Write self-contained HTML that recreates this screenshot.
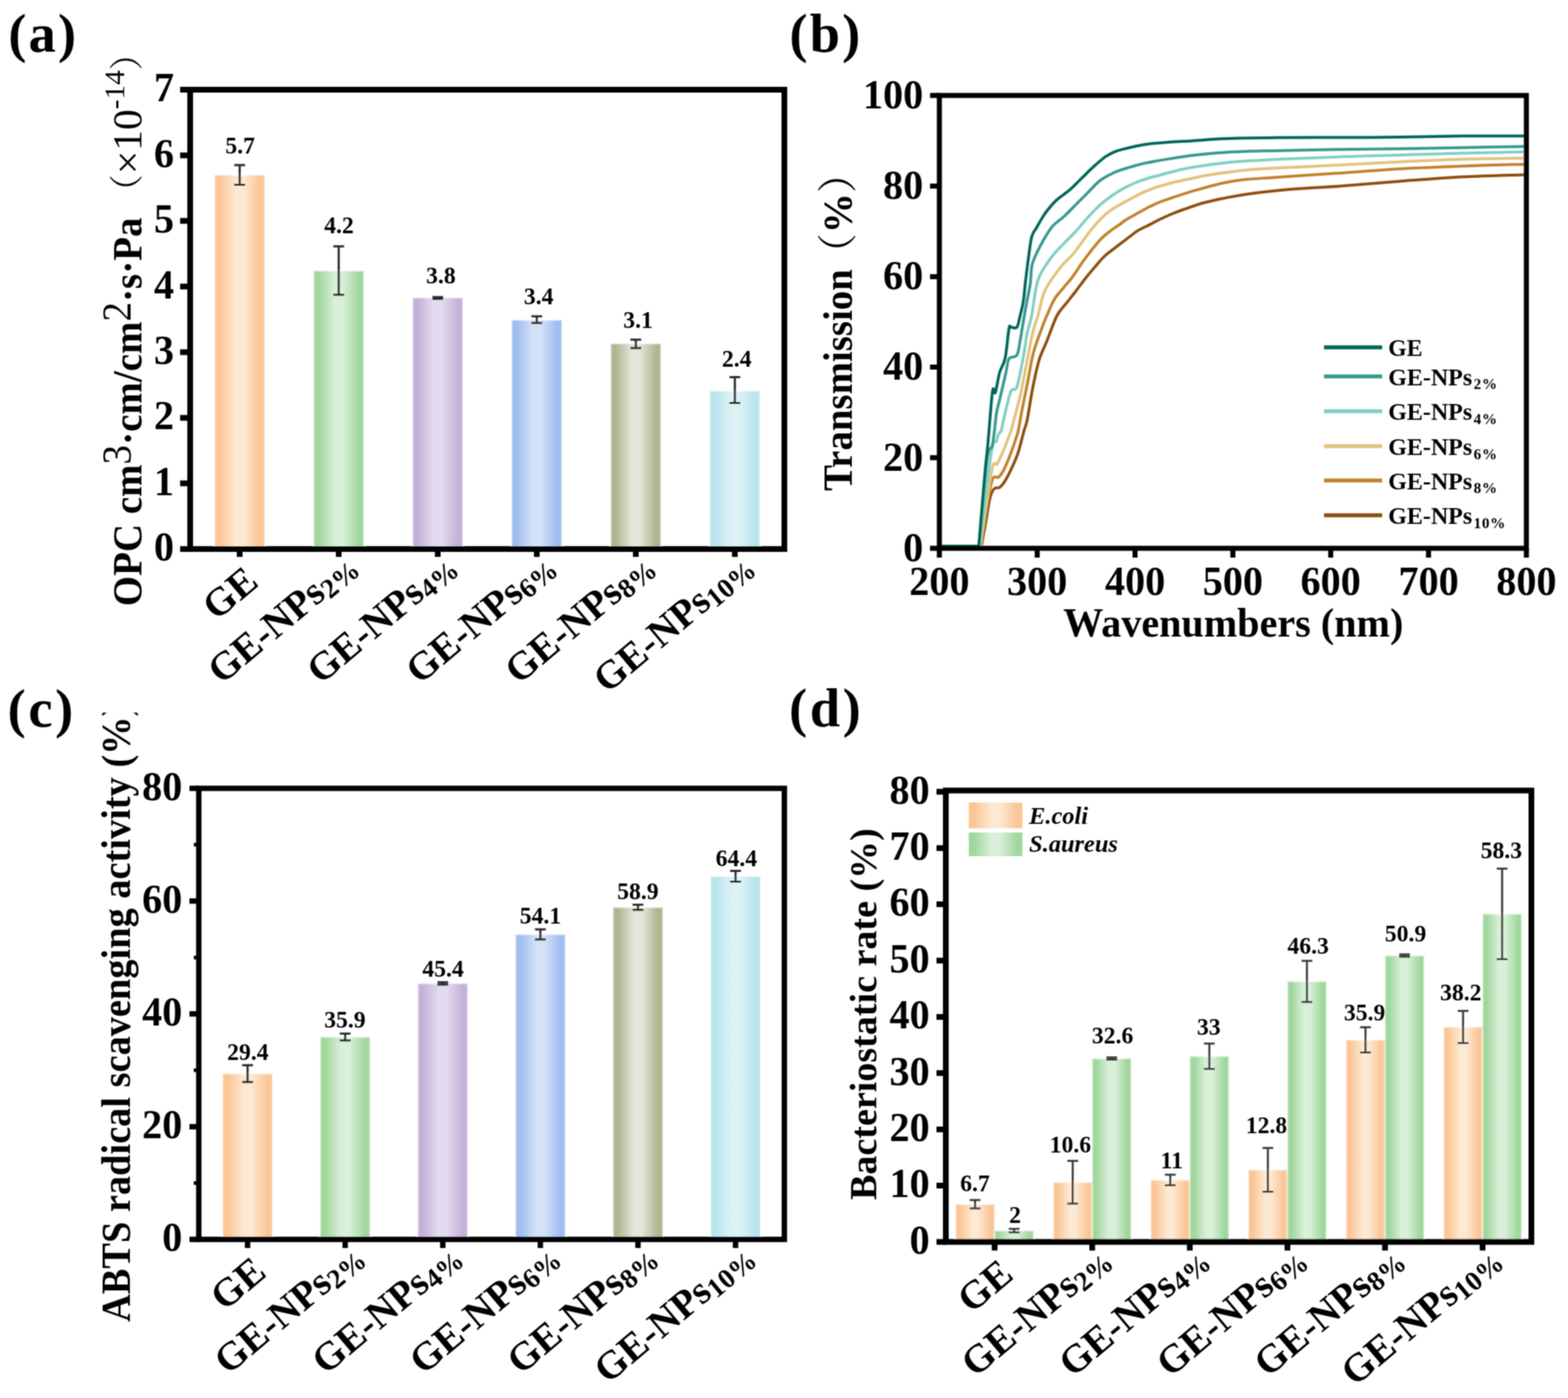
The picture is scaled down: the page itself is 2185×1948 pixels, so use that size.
<!DOCTYPE html>
<html><head><meta charset="utf-8"><title>Figure</title>
<style>html,body{margin:0;padding:0;background:#fff;}svg{display:block;}</style></head>
<body><svg width="2185" height="1948" viewBox="0 0 2185 1948">
<defs><linearGradient id="g_peach" x1="0" y1="0" x2="1" y2="0"><stop offset="0" stop-color="#FBC595"/><stop offset="0.1" stop-color="#FBC595"/><stop offset="0.42" stop-color="#FDE8D2"/><stop offset="0.58" stop-color="#FDE8D2"/><stop offset="0.9" stop-color="#FBC595"/><stop offset="1" stop-color="#FBC595"/></linearGradient><linearGradient id="g_green" x1="0" y1="0" x2="1" y2="0"><stop offset="0" stop-color="#A0D79C"/><stop offset="0.1" stop-color="#A0D79C"/><stop offset="0.42" stop-color="#D9EFD9"/><stop offset="0.58" stop-color="#D9EFD9"/><stop offset="0.9" stop-color="#A0D79C"/><stop offset="1" stop-color="#A0D79C"/></linearGradient><linearGradient id="g_purple" x1="0" y1="0" x2="1" y2="0"><stop offset="0" stop-color="#C3B1D8"/><stop offset="0.1" stop-color="#C3B1D8"/><stop offset="0.42" stop-color="#E3DBEE"/><stop offset="0.58" stop-color="#E3DBEE"/><stop offset="0.9" stop-color="#C3B1D8"/><stop offset="1" stop-color="#C3B1D8"/></linearGradient><linearGradient id="g_blue" x1="0" y1="0" x2="1" y2="0"><stop offset="0" stop-color="#9FBDF0"/><stop offset="0.1" stop-color="#9FBDF0"/><stop offset="0.42" stop-color="#D4E2F8"/><stop offset="0.58" stop-color="#D4E2F8"/><stop offset="0.9" stop-color="#9FBDF0"/><stop offset="1" stop-color="#9FBDF0"/></linearGradient><linearGradient id="g_olive" x1="0" y1="0" x2="1" y2="0"><stop offset="0" stop-color="#B0B590"/><stop offset="0.1" stop-color="#B0B590"/><stop offset="0.42" stop-color="#E5E5D9"/><stop offset="0.58" stop-color="#E5E5D9"/><stop offset="0.9" stop-color="#B0B590"/><stop offset="1" stop-color="#B0B590"/></linearGradient><linearGradient id="g_cyan" x1="0" y1="0" x2="1" y2="0"><stop offset="0" stop-color="#B8E4EB"/><stop offset="0.1" stop-color="#B8E4EB"/><stop offset="0.42" stop-color="#DDF2F5"/><stop offset="0.58" stop-color="#DDF2F5"/><stop offset="0.9" stop-color="#B8E4EB"/><stop offset="1" stop-color="#B8E4EB"/></linearGradient><clipPath id="clipc"><rect x="0" y="993" width="260" height="955"/></clipPath><filter id="soft" x="0" y="0" width="2185" height="1948" filterUnits="userSpaceOnUse"><feConvolveMatrix order="3" kernelMatrix="1 2 1 2 4 2 1 2 1" divisor="16" edgeMode="duplicate"/></filter></defs>
<rect width="2185" height="1948" fill="#fff"/>
<g filter="url(#soft)">
<rect x="299" y="243.86" width="70" height="521.14" fill="url(#g_peach)" stroke="#fff" stroke-opacity="0.4" stroke-width="3"/>
<rect x="437" y="377.34" width="70" height="387.66" fill="url(#g_green)" stroke="#fff" stroke-opacity="0.4" stroke-width="3"/>
<rect x="575" y="414.83" width="70" height="350.17" fill="url(#g_purple)" stroke="#fff" stroke-opacity="0.4" stroke-width="3"/>
<rect x="713" y="445.91" width="70" height="319.09" fill="url(#g_blue)" stroke="#fff" stroke-opacity="0.4" stroke-width="3"/>
<rect x="851" y="478.83" width="70" height="286.17" fill="url(#g_olive)" stroke="#fff" stroke-opacity="0.4" stroke-width="3"/>
<rect x="989" y="544.66" width="70" height="220.34" fill="url(#g_cyan)" stroke="#fff" stroke-opacity="0.4" stroke-width="3"/>
<path d="M334 230.1V257.6M326.5 230.1H341.5M326.5 257.6H341.5" stroke="#2a2a2a" stroke-width="3" fill="none"/>
<path d="M472 343.3V410.7M464.5 343.3H479.5M464.5 410.7H479.5" stroke="#2a2a2a" stroke-width="3" fill="none"/>
<path d="M610 414V416.5M602.5 414H617.5M602.5 416.5H617.5" stroke="#2a2a2a" stroke-width="3" fill="none"/>
<path d="M748 440.8V450M740.5 440.8H755.5M740.5 450H755.5" stroke="#2a2a2a" stroke-width="3" fill="none"/>
<path d="M886 473.2V485M878.5 473.2H893.5M878.5 485H893.5" stroke="#2a2a2a" stroke-width="3" fill="none"/>
<path d="M1024 525.5V561.6M1016.5 525.5H1031.5M1016.5 561.6H1031.5" stroke="#2a2a2a" stroke-width="3" fill="none"/>
<text x="334.7" y="213.5" font-size="33" font-weight="bold" font-style="normal" text-anchor="middle" font-family="'Liberation Serif', 'Noto Serif CJK SC', serif" >5.7</text>
<text x="472.4" y="325" font-size="33" font-weight="bold" font-style="normal" text-anchor="middle" font-family="'Liberation Serif', 'Noto Serif CJK SC', serif" >4.2</text>
<text x="614.4" y="394.5" font-size="33" font-weight="bold" font-style="normal" text-anchor="middle" font-family="'Liberation Serif', 'Noto Serif CJK SC', serif" >3.8</text>
<text x="750.7" y="424.1" font-size="33" font-weight="bold" font-style="normal" text-anchor="middle" font-family="'Liberation Serif', 'Noto Serif CJK SC', serif" >3.4</text>
<text x="889.2" y="457" font-size="33" font-weight="bold" font-style="normal" text-anchor="middle" font-family="'Liberation Serif', 'Noto Serif CJK SC', serif" >3.1</text>
<text x="1026.7" y="510.9" font-size="33" font-weight="bold" font-style="normal" text-anchor="middle" font-family="'Liberation Serif', 'Noto Serif CJK SC', serif" >2.4</text>
<rect x="265" y="125" width="828" height="640" fill="none" stroke="#000" stroke-width="8"/>
<path d="M265 765H251M265 673.57H251M265 582.14H251M265 490.71H251M265 399.29H251M265 307.86H251M265 216.43H251M265 125H251" stroke="#000" stroke-width="8" fill="none"/>
<path d="M334 765V776M472 765V776M610 765V776M748 765V776M886 765V776M1024 765V776" stroke="#000" stroke-width="8" fill="none"/>
<text x="242.5" y="781.34" font-size="56" font-weight="bold" font-style="normal" text-anchor="end" font-family="'Liberation Serif', 'Noto Serif CJK SC', serif" >0</text>
<text x="242.5" y="689.91" font-size="56" font-weight="bold" font-style="normal" text-anchor="end" font-family="'Liberation Serif', 'Noto Serif CJK SC', serif" >1</text>
<text x="242.5" y="598.48" font-size="56" font-weight="bold" font-style="normal" text-anchor="end" font-family="'Liberation Serif', 'Noto Serif CJK SC', serif" >2</text>
<text x="242.5" y="507.05" font-size="56" font-weight="bold" font-style="normal" text-anchor="end" font-family="'Liberation Serif', 'Noto Serif CJK SC', serif" >3</text>
<text x="242.5" y="415.63" font-size="56" font-weight="bold" font-style="normal" text-anchor="end" font-family="'Liberation Serif', 'Noto Serif CJK SC', serif" >4</text>
<text x="242.5" y="324.2" font-size="56" font-weight="bold" font-style="normal" text-anchor="end" font-family="'Liberation Serif', 'Noto Serif CJK SC', serif" >5</text>
<text x="242.5" y="232.77" font-size="56" font-weight="bold" font-style="normal" text-anchor="end" font-family="'Liberation Serif', 'Noto Serif CJK SC', serif" >6</text>
<text x="242.5" y="141.34" font-size="56" font-weight="bold" font-style="normal" text-anchor="end" font-family="'Liberation Serif', 'Noto Serif CJK SC', serif" >7</text>
<text x="362.5" y="814.6" font-size="55" font-weight="bold" text-anchor="end" font-family="'Liberation Serif', 'Noto Serif CJK SC', serif" transform="rotate(-40 362.5 814.6)">GE</text>
<text x="500.5" y="794" font-size="55" font-weight="bold" text-anchor="end" font-family="'Liberation Serif', 'Noto Serif CJK SC', serif" transform="rotate(-40 500.5 794)">GE-NPs<tspan font-size="0.7em" dy="0.15em">2%</tspan></text>
<text x="638.5" y="794" font-size="55" font-weight="bold" text-anchor="end" font-family="'Liberation Serif', 'Noto Serif CJK SC', serif" transform="rotate(-40 638.5 794)">GE-NPs<tspan font-size="0.7em" dy="0.15em">4%</tspan></text>
<text x="776.5" y="794" font-size="55" font-weight="bold" text-anchor="end" font-family="'Liberation Serif', 'Noto Serif CJK SC', serif" transform="rotate(-40 776.5 794)">GE-NPs<tspan font-size="0.7em" dy="0.15em">6%</tspan></text>
<text x="914.5" y="794" font-size="55" font-weight="bold" text-anchor="end" font-family="'Liberation Serif', 'Noto Serif CJK SC', serif" transform="rotate(-40 914.5 794)">GE-NPs<tspan font-size="0.7em" dy="0.15em">8%</tspan></text>
<text x="1052.5" y="794" font-size="55" font-weight="bold" text-anchor="end" font-family="'Liberation Serif', 'Noto Serif CJK SC', serif" transform="rotate(-40 1052.5 794)">GE-NPs<tspan font-size="0.7em" dy="0.15em">10%</tspan></text>
<text x="11.5" y="71.5" font-size="76" font-weight="bold" font-style="normal" text-anchor="start" font-family="'Liberation Serif', 'Noto Serif CJK SC', serif" letter-spacing="3">(a)</text>
<text transform="translate(197 844.8) rotate(-90) scale(0.937 1)" font-size="58" font-weight="bold" font-family="'Liberation Serif', 'Noto Serif CJK SC', serif">OPC cm<tspan font-weight="normal" dy="-15">3</tspan><tspan dy="15">·cm/cm</tspan><tspan font-weight="normal" dy="-15">2</tspan><tspan dy="15">·s·Pa</tspan></text>
<text transform="translate(197 290.4) rotate(-90)" font-size="58" font-family="'Liberation Serif', 'Noto Serif CJK SC', serif"><tspan font-family="'Noto Serif CJK SC', 'Liberation Serif', serif" font-size="0.82em" dy="-4">（</tspan><tspan dy="4">×10</tspan><tspan font-size="0.7em" dy="-24">-14</tspan><tspan font-family="'Noto Serif CJK SC', 'Liberation Serif', serif" font-size="0.82em" dy="20">）</tspan></text>
<g fill="none" stroke-width="4" stroke-linejoin="round">
<path d="M1309 761L1367.6 761C1368.58 755.6 1371.52 739.77 1373.5 728.6C1375.48 717.43 1377.52 701.93 1379.5 694C1381.48 686.07 1383.1 683.5 1385.4 681C1387.7 678.5 1390.67 681 1393.3 679C1395.93 677 1398.23 673.92 1401.2 669C1404.17 664.08 1408.13 656 1411.1 649.5C1414.07 643 1416.35 638.25 1419 630C1421.65 621.75 1424.93 607.5 1427 600C1429.07 592.5 1429.4 594.83 1431.4 585C1433.4 575.17 1436.25 554.83 1439 541C1441.75 527.17 1444.58 513 1447.9 502C1451.22 491 1454.75 485.33 1458.9 475C1463.05 464.67 1468.28 448.75 1472.8 440C1477.32 431.25 1481.62 428.2 1486 422.5C1490.38 416.8 1494.72 411.52 1499.1 405.8C1503.48 400.08 1507.9 393.78 1512.3 388.2C1516.7 382.62 1521.1 377.43 1525.5 372.3C1529.9 367.17 1534.3 361.65 1538.7 357.4C1543.1 353.15 1545.93 351.45 1551.9 346.8C1557.87 342.15 1568.78 333.82 1574.5 329.5C1580.22 325.18 1581.63 323.63 1586.2 320.9C1590.77 318.17 1596.67 315.75 1601.9 313.1C1607.13 310.45 1612.37 307.52 1617.6 305C1622.83 302.48 1628.07 300.17 1633.3 298C1638.53 295.83 1641.62 294.58 1649 292C1656.38 289.42 1667.93 285.18 1677.6 282.5C1687.27 279.82 1697.2 277.87 1707 275.9C1716.8 273.93 1726.6 272.18 1736.4 270.7C1746.2 269.22 1756 268.1 1765.8 267C1775.6 265.9 1785.4 264.95 1795.2 264.1C1805 263.25 1812.85 262.67 1824.6 261.9C1836.35 261.13 1844.55 261.07 1865.7 259.5C1886.85 257.93 1922.92 254.67 1951.5 252.5C1980.08 250.33 2008.28 248 2037.2 246.5C2066.12 245 2110.37 244 2125 243.5" stroke="#8E4F0F"/>
<path d="M1309 761L1367 761C1368.5 750.83 1373.27 715.67 1376 700C1378.73 684.33 1380.85 672.83 1383.4 667C1385.95 661.17 1388.67 667.17 1391.3 665C1393.93 662.83 1396.23 659.83 1399.2 654C1402.17 648.17 1406.3 637.33 1409.1 630C1411.9 622.67 1414.35 615 1416 610C1417.65 605 1417.72 606 1419 600C1420.28 594 1421.45 585.67 1423.7 574C1425.95 562.33 1429.75 543.83 1432.5 530C1435.25 516.17 1436.72 503.83 1440.2 491C1443.68 478.17 1450.32 461.5 1453.4 453C1456.48 444.5 1456.07 445.97 1458.7 440C1461.33 434.03 1465.38 423.63 1469.2 417.2C1473.02 410.77 1477.33 406.68 1481.6 401.4C1485.87 396.12 1490.42 391.37 1494.8 385.5C1499.18 379.63 1503.52 372.35 1507.9 366.2C1512.28 360.05 1516.7 354.17 1521.1 348.6C1525.5 343.03 1529.9 337.32 1534.3 332.8C1538.7 328.28 1543.22 324.8 1547.5 321.5C1551.78 318.2 1556.15 315.7 1560 313C1563.85 310.3 1566.23 308.03 1570.6 305.3C1574.97 302.57 1580.98 299.48 1586.2 296.6C1591.42 293.72 1596.67 290.6 1601.9 288C1607.13 285.4 1612.37 283.08 1617.6 281C1622.83 278.92 1628.07 277.28 1633.3 275.5C1638.53 273.72 1641.62 272.57 1649 270.3C1656.38 268.03 1667.93 264.53 1677.6 261.9C1687.27 259.27 1697.2 256.47 1707 254.5C1716.8 252.53 1726.6 251.2 1736.4 250.1C1746.2 249 1758.53 248.43 1765.8 247.9C1773.07 247.37 1763.35 248.02 1780 246.9C1796.65 245.78 1837.12 243.15 1865.7 241.2C1894.28 239.25 1922.92 236.83 1951.5 235.2C1980.08 233.57 2008.28 232.45 2037.2 231.4C2066.12 230.35 2110.37 229.32 2125 228.9" stroke="#C3812F"/>
<path d="M1309 761L1366 761C1367.5 750.83 1372.1 718.58 1375 700C1377.9 681.42 1381.02 658.42 1383.4 649.5C1385.78 640.58 1386.98 649.75 1389.3 646.5C1391.62 643.25 1394.65 636.08 1397.3 630C1399.95 623.92 1403.25 615 1405.2 610C1407.15 605 1407.93 603.33 1409 600C1410.07 596.67 1409.52 598 1411.6 590C1413.68 582 1418.38 565.67 1421.5 552C1424.62 538.33 1427.38 522.67 1430.3 508C1433.22 493.33 1436.32 475.33 1439 464C1441.68 452.67 1444.37 447.33 1446.4 440C1448.43 432.67 1449.45 426.15 1451.2 420C1452.95 413.85 1453.9 409.13 1456.9 403.1C1459.9 397.07 1465.08 389.67 1469.2 383.8C1473.32 377.93 1477.33 372.73 1481.6 367.9C1485.87 363.07 1490.42 359.92 1494.8 354.8C1499.18 349.68 1503.52 343.07 1507.9 337.2C1512.28 331.33 1516.7 325.03 1521.1 319.6C1525.5 314.17 1529.9 309 1534.3 304.6C1538.7 300.2 1542.77 296.62 1547.5 293.2C1552.23 289.78 1557.55 287.05 1562.7 284.1C1567.85 281.15 1573.18 278.25 1578.4 275.5C1583.62 272.75 1588.77 269.95 1594 267.6C1599.23 265.25 1604.57 263.22 1609.8 261.4C1615.03 259.58 1620.18 258.15 1625.4 256.7C1630.62 255.25 1635.33 254.02 1641.1 252.7C1646.87 251.38 1653.92 250.08 1660 248.8C1666.08 247.52 1669.77 246.37 1677.6 245C1685.43 243.63 1697.2 241.95 1707 240.6C1716.8 239.25 1724.23 238 1736.4 236.9C1748.57 235.8 1758.45 235.15 1780 234C1801.55 232.85 1837.12 231.43 1865.7 230C1894.28 228.57 1922.92 226.73 1951.5 225.4C1980.08 224.07 2008.28 222.85 2037.2 222C2066.12 221.15 2110.37 220.58 2125 220.3" stroke="#E2C27E"/>
<path d="M1309 761L1365 761C1367.08 744 1374.43 682.5 1377.5 659C1380.57 635.5 1381.6 627.33 1383.4 620C1385.2 612.67 1386.98 617.5 1388.3 615C1389.62 612.5 1390.13 607.5 1391.3 605C1392.47 602.5 1394.1 603.33 1395.3 600C1396.5 596.67 1396.32 594 1398.5 585C1400.68 576 1405.32 553.67 1408.4 546C1411.48 538.33 1414.07 547.17 1417 539C1419.93 530.83 1423.6 509.5 1426 497C1428.4 484.5 1429.47 473.5 1431.4 464C1433.33 454.5 1435.58 450.33 1437.6 440C1439.62 429.67 1441.53 411.5 1443.5 402C1445.47 392.5 1445.67 390.42 1449.4 383C1453.13 375.58 1460.4 364.75 1465.9 357.5C1471.4 350.25 1476.9 345.32 1482.4 339.5C1487.9 333.68 1493.4 328.6 1498.9 322.6C1504.4 316.6 1509.9 309.52 1515.4 303.5C1520.9 297.48 1526.42 291.5 1531.9 286.5C1537.38 281.5 1542.82 277.42 1548.3 273.5C1553.78 269.58 1559.3 266.08 1564.8 263C1570.3 259.92 1575.8 257.33 1581.3 255C1586.8 252.67 1592.3 250.75 1597.8 249C1603.3 247.25 1606.07 246.67 1614.3 244.5C1622.53 242.33 1636.75 238.28 1647.2 236C1657.65 233.72 1664.78 232.55 1677 230.8C1689.22 229.05 1703.33 226.97 1720.5 225.5C1737.67 224.03 1755.8 223.15 1780 222C1804.2 220.85 1837.12 219.6 1865.7 218.6C1894.28 217.6 1922.92 216.87 1951.5 216C1980.08 215.13 2008.28 214.12 2037.2 213.4C2066.12 212.68 2110.37 211.98 2125 211.7" stroke="#80D0C2"/>
<path d="M1309 761L1364 761C1365.92 740.83 1372.33 663.5 1375.5 640C1378.67 616.5 1380.82 630.67 1383 620C1385.18 609.33 1386.93 586.5 1388.6 576C1390.27 565.5 1390.8 566.5 1393 557C1395.2 547.5 1399.63 528.5 1401.8 519C1403.97 509.5 1403.47 504 1406 500C1408.53 496 1414.42 499.17 1417 495C1419.58 490.83 1419.83 483.83 1421.5 475C1423.17 466.17 1425.42 451.17 1427 442C1428.58 432.83 1429.53 427.95 1431 420C1432.47 412.05 1434.55 402.97 1435.8 394.3C1437.05 385.63 1436.23 376.53 1438.5 368C1440.77 359.47 1444.83 351.72 1449.4 343.1C1453.97 334.48 1460.4 323.17 1465.9 316.3C1471.4 309.43 1476.9 307.05 1482.4 301.9C1487.9 296.75 1493.4 290.9 1498.9 285.4C1504.4 279.9 1509.9 274.4 1515.4 268.9C1520.9 263.4 1526.42 256.8 1531.9 252.4C1537.38 248 1542.82 245.25 1548.3 242.5C1553.78 239.75 1559.3 237.82 1564.8 235.9C1570.3 233.98 1575.8 232.5 1581.3 231C1586.8 229.5 1589.55 228.55 1597.8 226.9C1606.05 225.25 1619.82 222.88 1630.8 221.1C1641.78 219.32 1652.72 217.57 1663.7 216.2C1674.68 214.83 1684.78 213.78 1696.7 212.9C1708.62 212.02 1721.32 211.38 1735.2 210.9C1749.08 210.42 1758.25 210.43 1780 210C1801.75 209.57 1837.12 208.77 1865.7 208.3C1894.28 207.83 1922.92 207.63 1951.5 207.2C1980.08 206.77 2008.28 206.23 2037.2 205.7C2066.12 205.17 2110.37 204.28 2125 204" stroke="#389A8F"/>
<path d="M1309 761L1364 761C1365.42 744 1370.42 682.5 1372.5 659C1374.58 635.5 1374.75 638.83 1376.5 620C1378.25 601.17 1381.25 558.17 1383 546C1384.75 533.83 1385.33 551.5 1387 547C1388.67 542.5 1390.72 527 1393 519C1395.28 511 1398.53 509.17 1400.7 499C1402.87 488.83 1404.62 465.17 1406 458C1407.38 450.83 1407.17 456.33 1409 456C1410.83 455.67 1414.92 458.67 1417 456C1419.08 453.33 1420 446 1421.5 440C1423 434 1424.78 427.62 1426 420C1427.22 412.38 1427.6 404.45 1428.8 394.3C1430 384.15 1431.72 369.82 1433.2 359.1C1434.68 348.38 1435.8 337.03 1437.7 330C1439.6 322.97 1441.68 322.07 1444.6 316.9C1447.52 311.73 1451.65 304.25 1455.2 299C1458.75 293.75 1462.73 289.05 1465.9 285.4C1469.07 281.75 1470.07 280.57 1474.2 277.1C1478.33 273.63 1485.22 269.35 1490.7 264.6C1496.18 259.85 1501.62 253.93 1507.1 248.6C1512.58 243.27 1518.1 237.62 1523.6 232.6C1529.1 227.58 1535.37 221.93 1540.1 218.5C1544.83 215.07 1547.88 213.77 1552 212C1556.12 210.23 1557.17 209.73 1564.8 207.9C1572.43 206.07 1586.93 202.65 1597.8 201C1608.67 199.35 1619.35 198.8 1630 198C1640.65 197.2 1649.07 197 1661.7 196.2C1674.33 195.4 1686.08 193.95 1705.8 193.2C1725.52 192.45 1753.35 191.97 1780 191.7C1806.65 191.43 1837.12 191.7 1865.7 191.6C1894.28 191.5 1922.92 191.43 1951.5 191.1C1980.08 190.77 2008.28 189.88 2037.2 189.6C2066.12 189.32 2110.37 189.43 2125 189.4" stroke="#06665A"/>
</g>
<rect x="1309" y="133" width="818" height="631" fill="none" stroke="#000" stroke-width="7"/>
<path d="M1309 764H1296M1309 637.8H1296M1309 511.6H1296M1309 385.4H1296M1309 259.2H1296M1309 133H1296" stroke="#000" stroke-width="7" fill="none"/>
<path d="M1309 764V777M1445.33 764V777M1581.67 764V777M1718 764V777M1854.33 764V777M1990.67 764V777M2127 764V777" stroke="#000" stroke-width="7" fill="none"/>
<text x="1286.5" y="781.84" font-size="56" font-weight="bold" font-style="normal" text-anchor="end" font-family="'Liberation Serif', 'Noto Serif CJK SC', serif" >0</text>
<text x="1286.5" y="655.64" font-size="56" font-weight="bold" font-style="normal" text-anchor="end" font-family="'Liberation Serif', 'Noto Serif CJK SC', serif" >20</text>
<text x="1286.5" y="529.44" font-size="56" font-weight="bold" font-style="normal" text-anchor="end" font-family="'Liberation Serif', 'Noto Serif CJK SC', serif" >40</text>
<text x="1286.5" y="403.24" font-size="56" font-weight="bold" font-style="normal" text-anchor="end" font-family="'Liberation Serif', 'Noto Serif CJK SC', serif" >60</text>
<text x="1286.5" y="277.04" font-size="56" font-weight="bold" font-style="normal" text-anchor="end" font-family="'Liberation Serif', 'Noto Serif CJK SC', serif" >80</text>
<text x="1286.5" y="150.84" font-size="56" font-weight="bold" font-style="normal" text-anchor="end" font-family="'Liberation Serif', 'Noto Serif CJK SC', serif" >100</text>
<text x="1309" y="828.5" font-size="56" font-weight="bold" font-style="normal" text-anchor="middle" font-family="'Liberation Serif', 'Noto Serif CJK SC', serif" >200</text>
<text x="1445.33" y="828.5" font-size="56" font-weight="bold" font-style="normal" text-anchor="middle" font-family="'Liberation Serif', 'Noto Serif CJK SC', serif" >300</text>
<text x="1581.67" y="828.5" font-size="56" font-weight="bold" font-style="normal" text-anchor="middle" font-family="'Liberation Serif', 'Noto Serif CJK SC', serif" >400</text>
<text x="1718" y="828.5" font-size="56" font-weight="bold" font-style="normal" text-anchor="middle" font-family="'Liberation Serif', 'Noto Serif CJK SC', serif" >500</text>
<text x="1854.33" y="828.5" font-size="56" font-weight="bold" font-style="normal" text-anchor="middle" font-family="'Liberation Serif', 'Noto Serif CJK SC', serif" >600</text>
<text x="1990.67" y="828.5" font-size="56" font-weight="bold" font-style="normal" text-anchor="middle" font-family="'Liberation Serif', 'Noto Serif CJK SC', serif" >700</text>
<text x="2127" y="828.5" font-size="56" font-weight="bold" font-style="normal" text-anchor="middle" font-family="'Liberation Serif', 'Noto Serif CJK SC', serif" >800</text>
<text x="1718.6" y="887" font-size="56" font-weight="bold" font-style="normal" text-anchor="middle" font-family="'Liberation Serif', 'Noto Serif CJK SC', serif" textLength="474" lengthAdjust="spacingAndGlyphs">Wavenumbers (nm)</text>
<text x="1100" y="71.5" font-size="76" font-weight="bold" font-style="normal" text-anchor="start" font-family="'Liberation Serif', 'Noto Serif CJK SC', serif" letter-spacing="3">(b)</text>
<text transform="translate(1187 684) rotate(-90) scale(0.967 1)" font-size="56" font-weight="bold" font-family="'Liberation Serif', 'Noto Serif CJK SC', serif">Transmission</text>
<text transform="translate(1187 381) rotate(-90)" font-size="56" font-weight="bold" font-family="'Liberation Serif', 'Noto Serif CJK SC', serif"><tspan font-weight="normal" font-family="'Noto Serif CJK SC', 'Liberation Serif', serif">（</tspan>%<tspan font-weight="normal" font-family="'Noto Serif CJK SC', 'Liberation Serif', serif">）</tspan></text>
<path d="M1845 483.9H1926" stroke="#06665A" stroke-width="5.5"/>
<text x="1934.5" y="495.9" font-size="33" font-weight="bold" font-style="normal" text-anchor="start" font-family="'Liberation Serif', 'Noto Serif CJK SC', serif" >GE</text>
<path d="M1845 524.5H1926" stroke="#389A8F" stroke-width="5.5"/>
<text x="1934.5" y="536.5" font-size="33" font-weight="bold" font-style="normal" text-anchor="start" font-family="'Liberation Serif', 'Noto Serif CJK SC', serif" ><tspan textLength="117" lengthAdjust="spacingAndGlyphs">GE-NPs</tspan><tspan font-size="0.64em" dy="0.28em" dx="2" letter-spacing="1">2%</tspan></text>
<path d="M1845 573.1H1926" stroke="#80D0C2" stroke-width="5.5"/>
<text x="1934.5" y="585.1" font-size="33" font-weight="bold" font-style="normal" text-anchor="start" font-family="'Liberation Serif', 'Noto Serif CJK SC', serif" ><tspan textLength="117" lengthAdjust="spacingAndGlyphs">GE-NPs</tspan><tspan font-size="0.64em" dy="0.28em" dx="2" letter-spacing="1">4%</tspan></text>
<path d="M1845 621.7H1926" stroke="#E2C27E" stroke-width="5.5"/>
<text x="1934.5" y="633.7" font-size="33" font-weight="bold" font-style="normal" text-anchor="start" font-family="'Liberation Serif', 'Noto Serif CJK SC', serif" ><tspan textLength="117" lengthAdjust="spacingAndGlyphs">GE-NPs</tspan><tspan font-size="0.64em" dy="0.28em" dx="2" letter-spacing="1">6%</tspan></text>
<path d="M1845 669.5H1926" stroke="#C3812F" stroke-width="5.5"/>
<text x="1934.5" y="681.5" font-size="33" font-weight="bold" font-style="normal" text-anchor="start" font-family="'Liberation Serif', 'Noto Serif CJK SC', serif" ><tspan textLength="117" lengthAdjust="spacingAndGlyphs">GE-NPs</tspan><tspan font-size="0.64em" dy="0.28em" dx="2" letter-spacing="1">8%</tspan></text>
<path d="M1845 718.1H1926" stroke="#8E4F0F" stroke-width="5.5"/>
<text x="1934.5" y="730.1" font-size="33" font-weight="bold" font-style="normal" text-anchor="start" font-family="'Liberation Serif', 'Noto Serif CJK SC', serif" ><tspan textLength="117" lengthAdjust="spacingAndGlyphs">GE-NPs</tspan><tspan font-size="0.64em" dy="0.28em" dx="2" letter-spacing="1">10%</tspan></text>
<rect x="310.25" y="1496.03" width="69.5" height="230.97" fill="url(#g_peach)" stroke="#fff" stroke-opacity="0.4" stroke-width="3"/>
<rect x="446.25" y="1444.96" width="69.5" height="282.04" fill="url(#g_green)" stroke="#fff" stroke-opacity="0.4" stroke-width="3"/>
<rect x="582.25" y="1370.33" width="69.5" height="356.67" fill="url(#g_purple)" stroke="#fff" stroke-opacity="0.4" stroke-width="3"/>
<rect x="718.25" y="1301.98" width="69.5" height="425.02" fill="url(#g_blue)" stroke="#fff" stroke-opacity="0.4" stroke-width="3"/>
<rect x="854.25" y="1264.27" width="69.5" height="462.73" fill="url(#g_olive)" stroke="#fff" stroke-opacity="0.4" stroke-width="3"/>
<rect x="990.25" y="1221.06" width="69.5" height="505.94" fill="url(#g_cyan)" stroke="#fff" stroke-opacity="0.4" stroke-width="3"/>
<path d="M345 1484.24V1507.81M337.5 1484.24H352.5M337.5 1507.81H352.5" stroke="#2a2a2a" stroke-width="3" fill="none"/>
<path d="M481 1440.25V1449.67M473.5 1440.25H488.5M473.5 1449.67H488.5" stroke="#2a2a2a" stroke-width="3" fill="none"/>
<path d="M617 1368.76V1371.9M609.5 1368.76H624.5M609.5 1371.9H624.5" stroke="#2a2a2a" stroke-width="3" fill="none"/>
<path d="M753 1294.91V1309.05M745.5 1294.91H760.5M745.5 1309.05H760.5" stroke="#2a2a2a" stroke-width="3" fill="none"/>
<path d="M889 1260.73V1267.8M881.5 1260.73H896.5M881.5 1267.8H896.5" stroke="#2a2a2a" stroke-width="3" fill="none"/>
<path d="M1025 1213.59V1228.52M1017.5 1213.59H1032.5M1017.5 1228.52H1032.5" stroke="#2a2a2a" stroke-width="3" fill="none"/>
<text x="345.3" y="1476.9" font-size="33" font-weight="bold" font-style="normal" text-anchor="middle" font-family="'Liberation Serif', 'Noto Serif CJK SC', serif" >29.4</text>
<text x="480.5" y="1432.4" font-size="33" font-weight="bold" font-style="normal" text-anchor="middle" font-family="'Liberation Serif', 'Noto Serif CJK SC', serif" >35.9</text>
<text x="617.3" y="1360.7" font-size="33" font-weight="bold" font-style="normal" text-anchor="middle" font-family="'Liberation Serif', 'Noto Serif CJK SC', serif" >45.4</text>
<text x="753" y="1287.4" font-size="33" font-weight="bold" font-style="normal" text-anchor="middle" font-family="'Liberation Serif', 'Noto Serif CJK SC', serif" >54.1</text>
<text x="888.8" y="1253.2" font-size="33" font-weight="bold" font-style="normal" text-anchor="middle" font-family="'Liberation Serif', 'Noto Serif CJK SC', serif" >58.9</text>
<text x="1026" y="1207" font-size="33" font-weight="bold" font-style="normal" text-anchor="middle" font-family="'Liberation Serif', 'Noto Serif CJK SC', serif" >64.4</text>
<rect x="277" y="1098.5" width="816" height="628.5" fill="none" stroke="#000" stroke-width="7.5"/>
<path d="M277 1727H264M277 1569.88H264M277 1412.75H264M277 1255.62H264M277 1098.5H264" stroke="#000" stroke-width="7.5" fill="none"/>
<path d="M277 1648.44H270M277 1491.31H270M277 1334.19H270M277 1177.06H270" stroke="#000" stroke-width="5" fill="none"/>
<path d="M345 1727V1739M481 1727V1739M617 1727V1739M753 1727V1739M889 1727V1739M1025 1727V1739" stroke="#000" stroke-width="7.5" fill="none"/>
<text x="254" y="1743.34" font-size="56" font-weight="bold" font-style="normal" text-anchor="end" font-family="'Liberation Serif', 'Noto Serif CJK SC', serif" >0</text>
<text x="254" y="1586.21" font-size="56" font-weight="bold" font-style="normal" text-anchor="end" font-family="'Liberation Serif', 'Noto Serif CJK SC', serif" >20</text>
<text x="254" y="1429.09" font-size="56" font-weight="bold" font-style="normal" text-anchor="end" font-family="'Liberation Serif', 'Noto Serif CJK SC', serif" >40</text>
<text x="254" y="1271.96" font-size="56" font-weight="bold" font-style="normal" text-anchor="end" font-family="'Liberation Serif', 'Noto Serif CJK SC', serif" >60</text>
<text x="254" y="1114.84" font-size="56" font-weight="bold" font-style="normal" text-anchor="end" font-family="'Liberation Serif', 'Noto Serif CJK SC', serif" >80</text>
<text x="373.5" y="1776.6" font-size="55" font-weight="bold" text-anchor="end" font-family="'Liberation Serif', 'Noto Serif CJK SC', serif" transform="rotate(-40 373.5 1776.6)">GE</text>
<text x="509.5" y="1756" font-size="55" font-weight="bold" text-anchor="end" font-family="'Liberation Serif', 'Noto Serif CJK SC', serif" transform="rotate(-40 509.5 1756)">GE-NPs<tspan font-size="0.7em" dy="0.15em">2%</tspan></text>
<text x="645.5" y="1756" font-size="55" font-weight="bold" text-anchor="end" font-family="'Liberation Serif', 'Noto Serif CJK SC', serif" transform="rotate(-40 645.5 1756)">GE-NPs<tspan font-size="0.7em" dy="0.15em">4%</tspan></text>
<text x="781.5" y="1756" font-size="55" font-weight="bold" text-anchor="end" font-family="'Liberation Serif', 'Noto Serif CJK SC', serif" transform="rotate(-40 781.5 1756)">GE-NPs<tspan font-size="0.7em" dy="0.15em">6%</tspan></text>
<text x="917.5" y="1756" font-size="55" font-weight="bold" text-anchor="end" font-family="'Liberation Serif', 'Noto Serif CJK SC', serif" transform="rotate(-40 917.5 1756)">GE-NPs<tspan font-size="0.7em" dy="0.15em">8%</tspan></text>
<text x="1053.5" y="1756" font-size="55" font-weight="bold" text-anchor="end" font-family="'Liberation Serif', 'Noto Serif CJK SC', serif" transform="rotate(-40 1053.5 1756)">GE-NPs<tspan font-size="0.7em" dy="0.15em">10%</tspan></text>
<text x="10.6" y="1013" font-size="76" font-weight="bold" font-style="normal" text-anchor="start" font-family="'Liberation Serif', 'Noto Serif CJK SC', serif" letter-spacing="3.5">(c)</text>
<g clip-path="url(#clipc)"><text transform="translate(181 1842) rotate(-90) scale(0.955 1)" font-size="56" font-weight="bold" font-family="'Liberation Serif', 'Noto Serif CJK SC', serif">ABTS radical scavenging activity (%)</text></g>
<rect x="1331.6" y="1677.97" width="54.4" height="52.53" fill="url(#g_peach)" stroke="#fff" stroke-opacity="0.4" stroke-width="3"/>
<rect x="1467.6" y="1647.4" width="54.4" height="83.1" fill="url(#g_peach)" stroke="#fff" stroke-opacity="0.4" stroke-width="3"/>
<rect x="1603.6" y="1644.26" width="54.4" height="86.24" fill="url(#g_peach)" stroke="#fff" stroke-opacity="0.4" stroke-width="3"/>
<rect x="1739.6" y="1630.15" width="54.4" height="100.35" fill="url(#g_peach)" stroke="#fff" stroke-opacity="0.4" stroke-width="3"/>
<rect x="1875.6" y="1449.04" width="54.4" height="281.46" fill="url(#g_peach)" stroke="#fff" stroke-opacity="0.4" stroke-width="3"/>
<rect x="2011.6" y="1431.01" width="54.4" height="299.49" fill="url(#g_peach)" stroke="#fff" stroke-opacity="0.4" stroke-width="3"/>
<rect x="1386" y="1714.82" width="54.4" height="15.68" fill="url(#g_green)" stroke="#fff" stroke-opacity="0.4" stroke-width="3"/>
<rect x="1522" y="1474.92" width="54.4" height="255.58" fill="url(#g_green)" stroke="#fff" stroke-opacity="0.4" stroke-width="3"/>
<rect x="1658" y="1471.78" width="54.4" height="258.72" fill="url(#g_green)" stroke="#fff" stroke-opacity="0.4" stroke-width="3"/>
<rect x="1794" y="1367.51" width="54.4" height="362.99" fill="url(#g_green)" stroke="#fff" stroke-opacity="0.4" stroke-width="3"/>
<rect x="1930" y="1331.44" width="54.4" height="399.06" fill="url(#g_green)" stroke="#fff" stroke-opacity="0.4" stroke-width="3"/>
<rect x="2066" y="1273.43" width="54.4" height="457.07" fill="url(#g_green)" stroke="#fff" stroke-opacity="0.4" stroke-width="3"/>
<path d="M1358.8 1672.09V1683.85M1351.3 1672.09H1366.3M1351.3 1683.85H1366.3" stroke="#383838" stroke-width="2.8" fill="none"/>
<path d="M1494.8 1617.6V1677.19M1487.3 1617.6H1502.3M1487.3 1677.19H1502.3" stroke="#383838" stroke-width="2.8" fill="none"/>
<path d="M1630.8 1636.81V1651.71M1623.3 1636.81H1638.3M1623.3 1651.71H1638.3" stroke="#383838" stroke-width="2.8" fill="none"/>
<path d="M1766.8 1599.57V1660.72M1759.3 1599.57H1774.3M1759.3 1660.72H1774.3" stroke="#383838" stroke-width="2.8" fill="none"/>
<path d="M1902.8 1431.4V1466.68M1895.3 1431.4H1910.3M1895.3 1466.68H1910.3" stroke="#383838" stroke-width="2.8" fill="none"/>
<path d="M2038.8 1408.67V1453.36M2031.3 1408.67H2046.3M2031.3 1453.36H2046.3" stroke="#383838" stroke-width="2.8" fill="none"/>
<path d="M1413.2 1712.47V1717.17M1405.7 1712.47H1420.7M1405.7 1717.17H1420.7" stroke="#383838" stroke-width="2.8" fill="none"/>
<path d="M1549.2 1473.35V1476.48M1541.7 1473.35H1556.7M1541.7 1476.48H1556.7" stroke="#383838" stroke-width="2.8" fill="none"/>
<path d="M1685.2 1454.14V1489.42M1677.7 1454.14H1692.7M1677.7 1489.42H1692.7" stroke="#383838" stroke-width="2.8" fill="none"/>
<path d="M1821.2 1338.89V1396.12M1813.7 1338.89H1828.7M1813.7 1396.12H1828.7" stroke="#383838" stroke-width="2.8" fill="none"/>
<path d="M1957.2 1329.88V1333.01M1949.7 1329.88H1964.7M1949.7 1333.01H1964.7" stroke="#383838" stroke-width="2.8" fill="none"/>
<path d="M2093.2 1210.32V1336.54M2085.7 1210.32H2100.7M2085.7 1336.54H2100.7" stroke="#383838" stroke-width="2.8" fill="none"/>
<text x="1358.7" y="1660.3" font-size="33" font-weight="bold" font-style="normal" text-anchor="middle" font-family="'Liberation Serif', 'Noto Serif CJK SC', serif" >6.7</text>
<text x="1414.6" y="1703.8" font-size="33" font-weight="bold" font-style="normal" text-anchor="middle" font-family="'Liberation Serif', 'Noto Serif CJK SC', serif" >2</text>
<text x="1491.7" y="1606" font-size="33" font-weight="bold" font-style="normal" text-anchor="middle" font-family="'Liberation Serif', 'Noto Serif CJK SC', serif" >10.6</text>
<text x="1550.4" y="1454" font-size="33" font-weight="bold" font-style="normal" text-anchor="middle" font-family="'Liberation Serif', 'Noto Serif CJK SC', serif" >32.6</text>
<text x="1632.9" y="1627.8" font-size="33" font-weight="bold" font-style="normal" text-anchor="middle" font-family="'Liberation Serif', 'Noto Serif CJK SC', serif" >11</text>
<text x="1684.5" y="1441.5" font-size="33" font-weight="bold" font-style="normal" text-anchor="middle" font-family="'Liberation Serif', 'Noto Serif CJK SC', serif" >33</text>
<text x="1764.8" y="1578.9" font-size="33" font-weight="bold" font-style="normal" text-anchor="middle" font-family="'Liberation Serif', 'Noto Serif CJK SC', serif" >12.8</text>
<text x="1822.9" y="1329.2" font-size="33" font-weight="bold" font-style="normal" text-anchor="middle" font-family="'Liberation Serif', 'Noto Serif CJK SC', serif" >46.3</text>
<text x="1901.6" y="1421.5" font-size="33" font-weight="bold" font-style="normal" text-anchor="middle" font-family="'Liberation Serif', 'Noto Serif CJK SC', serif" >35.9</text>
<text x="1958.6" y="1311.8" font-size="33" font-weight="bold" font-style="normal" text-anchor="middle" font-family="'Liberation Serif', 'Noto Serif CJK SC', serif" >50.9</text>
<text x="2035.7" y="1394.3" font-size="33" font-weight="bold" font-style="normal" text-anchor="middle" font-family="'Liberation Serif', 'Noto Serif CJK SC', serif" >38.2</text>
<text x="2092" y="1196" font-size="33" font-weight="bold" font-style="normal" text-anchor="middle" font-family="'Liberation Serif', 'Noto Serif CJK SC', serif" >58.3</text>
<rect x="1318" y="1101.5" width="816" height="629" fill="none" stroke="#000" stroke-width="8"/>
<path d="M1318 1730.5H1305M1318 1652.1H1305M1318 1573.7H1305M1318 1495.3H1305M1318 1416.9H1305M1318 1338.5H1305M1318 1260.1H1305M1318 1181.7H1305M1318 1103.3H1305" stroke="#000" stroke-width="8" fill="none"/>
<path d="M1386 1730.5V1742.5M1522 1730.5V1742.5M1658 1730.5V1742.5M1794 1730.5V1742.5M1930 1730.5V1742.5M2066 1730.5V1742.5" stroke="#000" stroke-width="8" fill="none"/>
<text x="1295.5" y="1746.84" font-size="56" font-weight="bold" font-style="normal" text-anchor="end" font-family="'Liberation Serif', 'Noto Serif CJK SC', serif" >0</text>
<text x="1295.5" y="1668.44" font-size="56" font-weight="bold" font-style="normal" text-anchor="end" font-family="'Liberation Serif', 'Noto Serif CJK SC', serif" >10</text>
<text x="1295.5" y="1590.04" font-size="56" font-weight="bold" font-style="normal" text-anchor="end" font-family="'Liberation Serif', 'Noto Serif CJK SC', serif" >20</text>
<text x="1295.5" y="1511.64" font-size="56" font-weight="bold" font-style="normal" text-anchor="end" font-family="'Liberation Serif', 'Noto Serif CJK SC', serif" >30</text>
<text x="1295.5" y="1433.24" font-size="56" font-weight="bold" font-style="normal" text-anchor="end" font-family="'Liberation Serif', 'Noto Serif CJK SC', serif" >40</text>
<text x="1295.5" y="1354.84" font-size="56" font-weight="bold" font-style="normal" text-anchor="end" font-family="'Liberation Serif', 'Noto Serif CJK SC', serif" >50</text>
<text x="1295.5" y="1276.44" font-size="56" font-weight="bold" font-style="normal" text-anchor="end" font-family="'Liberation Serif', 'Noto Serif CJK SC', serif" >60</text>
<text x="1295.5" y="1198.04" font-size="56" font-weight="bold" font-style="normal" text-anchor="end" font-family="'Liberation Serif', 'Noto Serif CJK SC', serif" >70</text>
<text x="1295.5" y="1119.64" font-size="56" font-weight="bold" font-style="normal" text-anchor="end" font-family="'Liberation Serif', 'Noto Serif CJK SC', serif" >80</text>
<text x="1414.5" y="1780.1" font-size="55" font-weight="bold" text-anchor="end" font-family="'Liberation Serif', 'Noto Serif CJK SC', serif" transform="rotate(-40 1414.5 1780.1)">GE</text>
<text x="1550.5" y="1759.5" font-size="55" font-weight="bold" text-anchor="end" font-family="'Liberation Serif', 'Noto Serif CJK SC', serif" transform="rotate(-40 1550.5 1759.5)">GE-NPs<tspan font-size="0.7em" dy="0.15em">2%</tspan></text>
<text x="1686.5" y="1759.5" font-size="55" font-weight="bold" text-anchor="end" font-family="'Liberation Serif', 'Noto Serif CJK SC', serif" transform="rotate(-40 1686.5 1759.5)">GE-NPs<tspan font-size="0.7em" dy="0.15em">4%</tspan></text>
<text x="1822.5" y="1759.5" font-size="55" font-weight="bold" text-anchor="end" font-family="'Liberation Serif', 'Noto Serif CJK SC', serif" transform="rotate(-40 1822.5 1759.5)">GE-NPs<tspan font-size="0.7em" dy="0.15em">6%</tspan></text>
<text x="1958.5" y="1759.5" font-size="55" font-weight="bold" text-anchor="end" font-family="'Liberation Serif', 'Noto Serif CJK SC', serif" transform="rotate(-40 1958.5 1759.5)">GE-NPs<tspan font-size="0.7em" dy="0.15em">8%</tspan></text>
<text x="2094.5" y="1759.5" font-size="55" font-weight="bold" text-anchor="end" font-family="'Liberation Serif', 'Noto Serif CJK SC', serif" transform="rotate(-40 2094.5 1759.5)">GE-NPs<tspan font-size="0.7em" dy="0.15em">10%</tspan></text>
<text x="1099.6" y="1012" font-size="76" font-weight="bold" font-style="normal" text-anchor="start" font-family="'Liberation Serif', 'Noto Serif CJK SC', serif" letter-spacing="3.5">(d)</text>
<text transform="translate(1221 1672) rotate(-90)" font-size="53" font-weight="bold" font-family="'Liberation Serif', 'Noto Serif CJK SC', serif">Bacteriostatic rate (%)</text>
<rect x="1350" y="1118.2" width="74.7" height="35.9" fill="url(#g_peach)"/>
<rect x="1350" y="1160" width="74.7" height="33" fill="url(#g_green)"/>
<text x="1434" y="1147.6" font-size="34" font-weight="bold" font-style="italic" text-anchor="start" font-family="'Liberation Serif', 'Noto Serif CJK SC', serif" >E.coli</text>
<text x="1434" y="1187" font-size="34" font-weight="bold" font-style="italic" text-anchor="start" font-family="'Liberation Serif', 'Noto Serif CJK SC', serif" >S.aureus</text>
</g>
</svg></body></html>
